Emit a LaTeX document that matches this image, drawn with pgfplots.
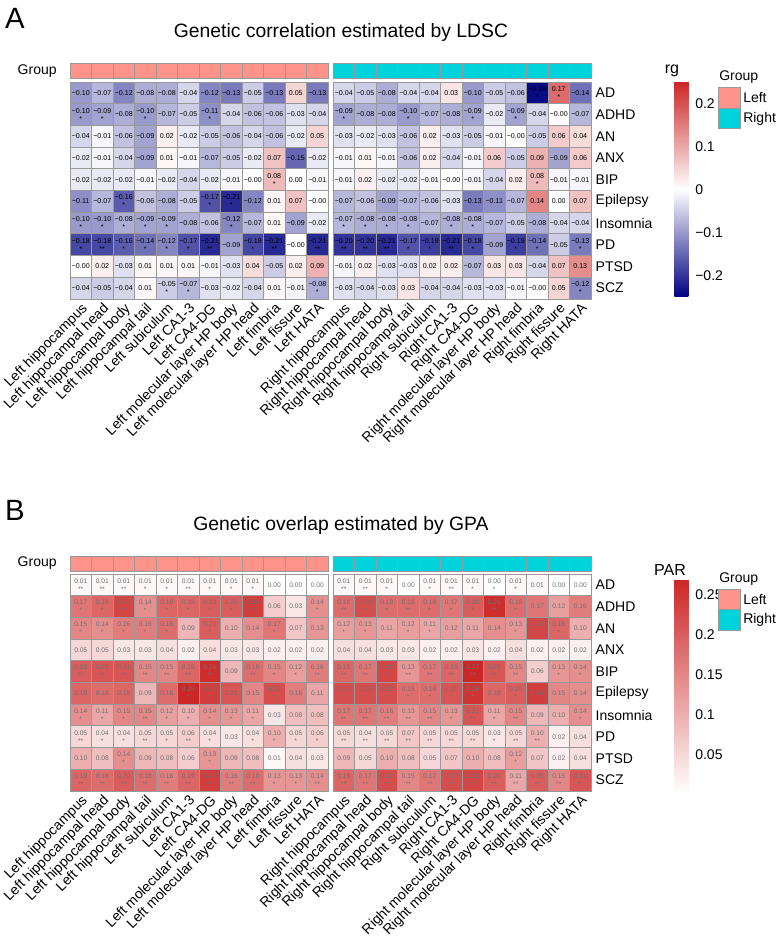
\documentclass[border=0pt]{standalone}
\usepackage{fontspec}
\setmainfont{Liberation Sans}
\usepackage{pgfplots}
\usepackage{pgfplotstable}
\pgfplotsset{compat=1.18}

\definecolor{leftc}{HTML}{FF9289}
\definecolor{rightc}{HTML}{00D3DB}
\definecolor{grey60}{HTML}{999999}
\definecolor{numgray}{HTML}{707070}

% one or two significance stars under the value
\protected\def\sa{\\{}*}
\protected\def\sb{\\{}**}
\newcommand\fs{\fontsize{10.5}{12}\selectfont}

\pgfplotsset{
  colormap={parmap}{rgb255=(255,255,255) rgb255=(205,38,38)},
  colormap={rgmap}{rgb255=(0,0,128) rgb255=(255,255,255) rgb255=(205,38,38)},
  heat/.style={
    scale only axis, width=193.5pt, height=162.75pt, anchor=north west,
    xmin=-0.5, xmax=11.5, ymin=-0.5, ymax=9.5, y dir=reverse,
    axis line style={draw=none}, major tick length=0pt, clip=false,
    xtick={0,...,11}, ytick=\empty,
    xticklabel style={rotate=45, anchor=north east, font=\fs, inner sep=1.5pt},
    yticklabel style={anchor=west, font=\fs},
  },
  gbar/.style={
    scale only axis, width=193.5pt, height=11.25pt, anchor=north west,
    xmin=-0.5, xmax=11.5, ymin=0, ymax=1, hide axis, clip=false,
  },
  lbox/.style={
    scale only axis, width=16.5pt, height=30.75pt, anchor=north west,
    xmin=0, xmax=1, ymin=-0.5, ymax=1.5, y dir=reverse, hide axis, clip=false,
  },
  cellnum/.style={
    only marks, mark=none, nodes near coords, point meta=explicit symbolic,
    nodes near coords align={center},
    every node near coord/.append style={anchor=center, align=center,
      inner sep=0pt, text=#1},
  },
}

% ---------- rg (LDSC) ----------
\pgfplotstableread{
x y v lab
0 0 -0.10 −0.10
1 0 -0.07 −0.07
2 0 -0.12 −0.12
3 0 -0.08 −0.08
4 0 -0.08 −0.08
5 0 -0.04 −0.04
6 0 -0.12 −0.12
7 0 -0.13 −0.13
8 0 -0.05 −0.05
9 0 -0.13 −0.13
10 0 0.05 0.05
11 0 -0.13 −0.13
0 1 -0.10 −0.10\sa
1 1 -0.09 −0.09\sa
2 1 -0.08 −0.08
3 1 -0.10 −0.10\sa
4 1 -0.07 −0.07
5 1 -0.05 −0.05
6 1 -0.11 −0.11\sa
7 1 -0.04 −0.04
8 1 -0.06 −0.06
9 1 -0.06 −0.06
10 1 -0.03 −0.03
11 1 -0.04 −0.04
0 2 -0.04 −0.04
1 2 -0.01 −0.01
2 2 -0.06 −0.06
3 2 -0.09 −0.09
4 2 0.02 0.02
5 2 -0.02 −0.02
6 2 -0.05 −0.05
7 2 -0.06 −0.06
8 2 -0.04 −0.04
9 2 -0.06 −0.06
10 2 -0.02 −0.02
11 2 0.05 0.05
0 3 -0.02 −0.02
1 3 -0.01 −0.01
2 3 -0.04 −0.04
3 3 -0.09 −0.09
4 3 0.01 0.01
5 3 -0.01 −0.01
6 3 -0.07 −0.07
7 3 -0.05 −0.05
8 3 -0.02 −0.02
9 3 0.07 0.07
10 3 -0.15 −0.15
11 3 -0.02 −0.02
0 4 -0.02 −0.02
1 4 -0.02 −0.02
2 4 -0.02 −0.02
3 4 -0.01 −0.01
4 4 -0.02 −0.02
5 4 -0.04 −0.04
6 4 -0.02 −0.02
7 4 -0.01 −0.01
8 4 0.00 −0.00
9 4 0.08 0.08\sa
10 4 0.00 0.00
11 4 -0.01 −0.01
0 5 -0.11 −0.11
1 5 -0.07 −0.07
2 5 -0.16 −0.16\sa
3 5 -0.06 −0.06
4 5 -0.08 −0.08
5 5 -0.05 −0.05
6 5 -0.17 −0.17\sa
7 5 -0.21 −0.21\sa
8 5 -0.12 −0.12
9 5 0.01 0.01
10 5 0.07 0.07
11 5 0.00 −0.00
0 6 -0.10 −0.10\sa
1 6 -0.10 −0.10\sa
2 6 -0.08 −0.08\sa
3 6 -0.09 −0.09\sa
4 6 -0.09 −0.09\sa
5 6 -0.08 −0.08
6 6 -0.06 −0.06
7 6 -0.12 −0.12\sa
8 6 -0.07 −0.07
9 6 0.01 0.01
10 6 -0.09 −0.09
11 6 -0.02 −0.02
0 7 -0.18 −0.18\sa
1 7 -0.18 −0.18\sb
2 7 -0.16 −0.16\sa
3 7 -0.14 −0.14\sa
4 7 -0.12 −0.12\sa
5 7 -0.17 −0.17\sa
6 7 -0.21 −0.21\sb
7 7 -0.09 −0.09
8 7 -0.18 −0.18\sa
9 7 -0.21 −0.21\sb
10 7 0.00 −0.00
11 7 -0.21 −0.21\sb
0 8 0.00 −0.00
1 8 0.02 0.02
2 8 -0.03 −0.03
3 8 0.01 0.01
4 8 0.01 0.01
5 8 0.01 0.01
6 8 -0.01 −0.01
7 8 -0.03 −0.03
8 8 0.04 0.04
9 8 -0.05 −0.05
10 8 0.02 0.02
11 8 0.09 0.09
0 9 -0.04 −0.04
1 9 -0.05 −0.05
2 9 -0.04 −0.04
3 9 0.01 0.01
4 9 -0.05 −0.05\sa
5 9 -0.07 −0.07\sa
6 9 -0.03 −0.03
7 9 -0.02 −0.02
8 9 -0.04 −0.04
9 9 0.01 0.01
10 9 -0.01 −0.01
11 9 -0.08 −0.08\sa
}\rgLeft

\pgfplotstableread{
x y v lab
0 0 -0.04 −0.04
1 0 -0.05 −0.05
2 0 -0.08 −0.08
3 0 -0.04 −0.04
4 0 -0.04 −0.04
5 0 0.03 0.03
6 0 -0.10 −0.10
7 0 -0.05 −0.05
8 0 -0.06 −0.06
9 0 -0.24 −0.24\sa
10 0 0.17 0.17\sa
11 0 -0.14 −0.14
0 1 -0.09 −0.09\sa
1 1 -0.08 −0.08
2 1 -0.08 −0.08
3 1 -0.10 −0.10\sa
4 1 -0.07 −0.07
5 1 -0.08 −0.08
6 1 -0.09 −0.09\sa
7 1 -0.02 −0.02
8 1 -0.09 −0.09\sa
9 1 -0.04 −0.04
10 1 0.00 −0.00
11 1 -0.07 −0.07
0 2 -0.03 −0.03
1 2 -0.02 −0.02
2 2 -0.03 −0.03
3 2 -0.06 −0.06
4 2 0.02 0.02
5 2 -0.03 −0.03
6 2 -0.05 −0.05
7 2 -0.01 −0.01
8 2 0.00 −0.00
9 2 -0.05 −0.05
10 2 0.06 0.06
11 2 0.04 0.04
0 3 -0.01 −0.01
1 3 0.01 0.01
2 3 -0.01 −0.01
3 3 -0.06 −0.06
4 3 0.02 0.02
5 3 -0.04 −0.04
6 3 -0.01 −0.01
7 3 0.06 0.06
8 3 -0.05 −0.05
9 3 0.09 0.09
10 3 -0.09 −0.09
11 3 0.06 0.06
0 4 -0.01 −0.01
1 4 0.02 0.02
2 4 -0.02 −0.02
3 4 -0.02 −0.02
4 4 -0.01 −0.01
5 4 0.00 −0.00
6 4 -0.01 −0.01
7 4 -0.04 −0.04
8 4 0.02 0.02
9 4 0.08 0.08\sa
10 4 -0.01 −0.01
11 4 -0.01 −0.01
0 5 -0.07 −0.07
1 5 -0.06 −0.06
2 5 -0.09 −0.09
3 5 -0.07 −0.07
4 5 -0.06 −0.06
5 5 -0.03 −0.03
6 5 -0.13 −0.13
7 5 -0.11 −0.11
8 5 -0.07 −0.07
9 5 0.14 0.14
10 5 0.00 0.00
11 5 0.07 0.07
0 6 -0.07 −0.07\sa
1 6 -0.08 −0.08\sa
2 6 -0.08 −0.08\sa
3 6 -0.08 −0.08\sa
4 6 -0.07 −0.07
5 6 -0.08 −0.08\sa
6 6 -0.08 −0.08\sa
7 6 -0.07 −0.07
8 6 -0.05 −0.05
9 6 -0.08 −0.08
10 6 -0.04 −0.04
11 6 -0.04 −0.04
0 7 -0.20 −0.20\sb
1 7 -0.20 −0.20\sb
2 7 -0.21 −0.21\sb
3 7 -0.17 −0.17\sa
4 7 -0.19 −0.19\sa
5 7 -0.21 −0.21\sb
6 7 -0.18 −0.18\sa
7 7 -0.09 −0.09
8 7 -0.19 −0.19\sa
9 7 -0.14 −0.14\sa
10 7 -0.05 −0.05
11 7 -0.13 −0.13\sa
0 8 -0.01 −0.01
1 8 0.02 0.02
2 8 -0.03 −0.03
3 8 -0.03 −0.03
4 8 0.02 0.02
5 8 0.02 0.02
6 8 -0.07 −0.07
7 8 0.03 0.03
8 8 0.03 0.03
9 8 -0.04 −0.04
10 8 0.07 0.07
11 8 0.13 0.13
0 9 -0.03 −0.03
1 9 -0.04 −0.04
2 9 -0.03 −0.03
3 9 0.03 0.03
4 9 -0.04 −0.04
5 9 -0.04 −0.04
6 9 -0.03 −0.03
7 9 -0.03 −0.03
8 9 -0.01 −0.01
9 9 0.00 −0.00
10 9 0.05 0.05
11 9 -0.12 −0.12\sa
}\rgRight

% ---------- PAR (GPA) ----------
\pgfplotstableread{
x y v lab
0 0 0.01 0.01\sb
1 0 0.01 0.01\sb
2 0 0.01 0.01\sb
3 0 0.01 0.01\sa
4 0 0.01 0.01\sa
5 0 0.01 0.01\sb
6 0 0.01 0.01\sa
7 0 0.01 0.01\sa
8 0 0.01 0.01\sa
9 0 0.00 0.00
10 0 0.00 0.00
11 0 0.00 0.00
0 1 0.17 0.17\sa
1 1 0.19 0.19\sa
2 1 0.23 0.23\sb
3 1 0.14 0.14\sa
4 1 0.19 0.19\sa
5 1 0.19 0.19\sa
6 1 0.20 0.20\sa
7 1 0.20 0.20\sa
8 1 0.24 0.24\sb
9 1 0.06 0.06
10 1 0.03 0.03
11 1 0.14 0.14\sa
0 2 0.15 0.15\sa
1 2 0.14 0.14\sa
2 2 0.16 0.16\sa
3 2 0.16 0.16\sa
4 2 0.18 0.18\sa
5 2 0.09 0.09
6 2 0.20 0.20\sa
7 2 0.10 0.10
8 2 0.14 0.14
9 2 0.17 0.17\sa
10 2 0.07 0.07
11 2 0.13 0.13
0 3 0.05 0.05
1 3 0.05 0.05
2 3 0.03 0.03
3 3 0.03 0.03
4 3 0.04 0.04
5 3 0.02 0.02
6 3 0.04 0.04
7 3 0.03 0.03
8 3 0.03 0.03
9 3 0.02 0.02
10 3 0.02 0.02
11 3 0.02 0.02
0 4 0.20 0.20\sb
1 4 0.21 0.21\sb
2 4 0.21 0.21\sb
3 4 0.15 0.15\sb
4 4 0.15 0.15\sb
5 4 0.19 0.19\sb
6 4 0.26 0.26\sb
7 4 0.09 0.09
8 4 0.18 0.18\sb
9 4 0.15 0.15\sa
10 4 0.12 0.12\sa
11 4 0.16 0.16\sb
0 5 0.19 0.19
1 5 0.18 0.18
2 5 0.19 0.19
3 5 0.09 0.09
4 5 0.18 0.18
5 5 0.28 0.28\sa
6 5 0.24 0.24\sa
7 5 0.21 0.21
8 5 0.15 0.15
9 5 0.22 0.22\sa
10 5 0.16 0.16
11 5 0.11 0.11
0 6 0.14 0.14\sa
1 6 0.11 0.11\sa
2 6 0.15 0.15\sa
3 6 0.15 0.15\sb
4 6 0.12 0.12\sa
5 6 0.10 0.10\sa
6 6 0.14 0.14\sa
7 6 0.13 0.13\sa
8 6 0.11 0.11\sa
9 6 0.03 0.03
10 6 0.08 0.08
11 6 0.08 0.08
0 7 0.05 0.05\sb
1 7 0.04 0.04\sa
2 7 0.04 0.04\sa
3 7 0.05 0.05\sb
4 7 0.05 0.05\sa
5 7 0.06 0.06\sb
6 7 0.04 0.04\sa
7 7 0.03 0.03
8 7 0.04 0.04\sa
9 7 0.10 0.10\sa
10 7 0.05 0.05\sa
11 7 0.06 0.06\sa
0 8 0.10 0.10
1 8 0.08 0.08
2 8 0.14 0.14\sa
3 8 0.09 0.09
4 8 0.08 0.08
5 8 0.06 0.06
6 8 0.13 0.13\sa
7 8 0.09 0.09
8 8 0.08 0.08
9 8 0.01 0.01
10 8 0.04 0.04
11 8 0.03 0.03
0 9 0.19 0.19\sb
1 9 0.18 0.18\sb
2 9 0.20 0.20\sb
3 9 0.18 0.18\sb
4 9 0.16 0.16\sb
5 9 0.19 0.19\sb
6 9 0.24 0.24\sb
7 9 0.16 0.16\sb
8 9 0.18 0.18\sb
9 9 0.13 0.13\sa
10 9 0.13 0.13\sa
11 9 0.14 0.14\sb
}\parLeft

\pgfplotstableread{
x y v lab
0 0 0.01 0.01\sb
1 0 0.01 0.01\sb
2 0 0.01 0.01\sa
3 0 0.00 0.00
4 0 0.01 0.01\sa
5 0 0.01 0.01\sb
6 0 0.01 0.01\sa
7 0 0.00 0.00\sa
8 0 0.01 0.01\sa
9 0 0.01 0.01
10 0 0.00 0.00
11 0 0.00 0.00
0 1 0.18 0.18\sb
1 1 0.22 0.22\sb
2 1 0.18 0.18\sa
3 1 0.18 0.18\sb
4 1 0.18 0.18\sa
5 1 0.17 0.17\sa
6 1 0.20 0.20\sa
7 1 0.26 0.26\sb
8 1 0.18 0.18\sa
9 1 0.17 0.17
10 1 0.12 0.12
11 1 0.16 0.16
0 2 0.12 0.12\sa
1 2 0.13 0.13\sa
2 2 0.11 0.11
3 2 0.12 0.12\sa
4 2 0.11 0.11\sa
5 2 0.12 0.12
6 2 0.11 0.11
7 2 0.14 0.14
8 2 0.13 0.13\sa
9 2 0.23 0.23\sa
10 2 0.19 0.19\sa
11 2 0.10 0.10
0 3 0.04 0.04
1 3 0.04 0.04
2 3 0.03 0.03
3 3 0.03 0.03
4 3 0.02 0.02
5 3 0.02 0.02
6 3 0.03 0.03
7 3 0.02 0.02
8 3 0.04 0.04
9 3 0.02 0.02
10 3 0.02 0.02
11 3 0.02 0.02
0 4 0.19 0.19\sb
1 4 0.17 0.17\sb
2 4 0.23 0.23\sb
3 4 0.13 0.13\sb
4 4 0.17 0.17\sb
5 4 0.19 0.19\sb
6 4 0.27 0.27\sb
7 4 0.21 0.21\sb
8 4 0.15 0.15\sb
9 4 0.06 0.06
10 4 0.13 0.13\sa
11 4 0.14 0.14\sa
0 5 0.22 0.22\sa
1 5 0.22 0.22\sa
2 5 0.22 0.22\sa
3 5 0.18 0.18\sa
4 5 0.18 0.18\sa
5 5 0.21 0.21\sa
6 5 0.25 0.25\sa
7 5 0.19 0.19
8 5 0.20 0.20\sa
9 5 0.24 0.24
10 5 0.15 0.15
11 5 0.14 0.14
0 6 0.17 0.17\sb
1 6 0.17 0.17\sb
2 6 0.16 0.16\sb
3 6 0.13 0.13\sb
4 6 0.15 0.15\sb
5 6 0.13 0.13\sa
6 6 0.21 0.21\sb
7 6 0.11 0.11\sa
8 6 0.15 0.15\sb
9 6 0.09 0.09
10 6 0.10 0.10
11 6 0.14 0.14\sa
0 7 0.05 0.05\sb
1 7 0.04 0.04\sb
2 7 0.05 0.05\sb
3 7 0.07 0.07\sb
4 7 0.05 0.05\sb
5 7 0.05 0.05\sb
6 7 0.05 0.05\sb
7 7 0.03 0.03\sa
8 7 0.05 0.05\sb
9 7 0.10 0.10\sb
10 7 0.02 0.02
11 7 0.04 0.04
0 8 0.09 0.09
1 8 0.05 0.05
2 8 0.10 0.10
3 8 0.08 0.08
4 8 0.05 0.05
5 8 0.07 0.07
6 8 0.10 0.10
7 8 0.08 0.08
8 8 0.12 0.12\sa
9 8 0.07 0.07
10 8 0.02 0.02
11 8 0.04 0.04
0 9 0.19 0.19\sb
1 9 0.17 0.17\sb
2 9 0.22 0.22\sb
3 9 0.15 0.15\sb
4 9 0.17 0.17\sb
5 9 0.22 0.22\sb
6 9 0.23 0.23\sb
7 9 0.20 0.20\sb
8 9 0.11 0.11\sb
9 9 0.20 0.20\sb
10 9 0.15 0.15\sb
11 9 0.21 0.21\sb
}\parRight

\def\leftnames{Left hippocampus, Left hippocampal head, Left hippocampal body,
  Left hippocampal tail, Left subiculum, Left CA1-3, Left CA4-DG,
  Left molecular layer HP body, Left molecular layer HP head, Left fimbria,
  Left fissure, Left HATA}
\def\rightnames{Right hippocampus, Right hippocampal head, Right hippocampal body,
  Right hippocampal tail, Right subiculum, Right CA1-3, Right CA4-DG,
  Right molecular layer HP body, Right molecular layer HP head, Right fimbria,
  Right fissure, Right HATA}
\def\traits{AD,ADHD,AN,ANX,BIP,Epilepsy,Insomnia,PD,PTSD,SCZ}

\begin{document}
\begin{tikzpicture}
\useasboundingbox (0,0) rectangle (583.5pt,-703.5pt);

% ================= A: LDSC =================
\node[font=\fontsize{22}{24}\selectfont] at (11.25pt,-13.5pt) {A};
\node[font=\fontsize{14.5}{16}\selectfont] at (255.75pt,-24.75pt) {Genetic correlation estimated by LDSC};
\node[anchor=east, font=\fs] at (46pt,-53.6pt) {Group};

\begin{axis}[gbar, at={(52.5pt,-48pt)}]
\addplot[ybar, bar width=1, bar shift=0pt, fill=leftc, draw=grey60, line width=0.75pt]
  coordinates {(0,1)(1,1)(2,1)(3,1)(4,1)(5,1)(6,1)(7,1)(8,1)(9,1)(10,1)(11,1)};
\end{axis}
\begin{axis}[gbar, at={(249.75pt,-48pt)}]
\addplot[ybar, bar width=1, bar shift=0pt, fill=rightc, draw=grey60, line width=0.75pt]
  coordinates {(0,1)(1,1)(2,1)(3,1)(4,1)(5,1)(6,1)(7,1)(8,1)(9,1)(10,1)(11,1)};
\end{axis}

\begin{axis}[heat, at={(52.5pt,-61.5pt)}, xticklabels/.expand once=\leftnames,
  colormap name=rgmap, point meta min=-0.25, point meta max=0.25]
\addplot[matrix plot*, mesh/cols=12, point meta=explicit, draw=grey60, line width=0.75pt]
  table[x=x, y=y, meta=v] {\rgLeft};
\addplot[cellnum=black, every node near coord/.append style={font=\fontsize{5.3}{6}\selectfont}]
  table[x=x, y=y, meta=lab] {\rgLeft};
\end{axis}

\begin{axis}[heat, at={(249.75pt,-61.5pt)}, xticklabels/.expand once=\rightnames,
  ytick={0,...,9}, yticklabels/.expand once=\traits, yticklabel pos=right,
  colormap name=rgmap, point meta min=-0.25, point meta max=0.25,
  colorbar,
  colorbar style={
    at={(parent axis.north east)}, anchor=north west, xshift=54pt, yshift=0pt,
    scale only axis, width=10.5pt, height=161.25pt,
    axis line style={draw=none}, major tick length=0pt,
    ytick={-0.2,-0.1,0,0.1,0.2}, yticklabels={−0.2,−0.1,0,0.1,0.2},
    yticklabel style={font=\fs, anchor=west, inner sep=0pt, xshift=5pt},
  }]
\addplot[matrix plot*, mesh/cols=12, point meta=explicit, draw=grey60, line width=0.75pt]
  table[x=x, y=y, meta=v] {\rgRight};
\addplot[cellnum=black, every node near coord/.append style={font=\fontsize{5.3}{6}\selectfont}]
  table[x=x, y=y, meta=lab] {\rgRight};
\end{axis}

\node[font=\fontsize{12}{14}\selectfont] at (504pt,-53.25pt) {rg};
\node[anchor=west, inner sep=0pt, font=\fs] at (539.25pt,-57.75pt) {Group};
\begin{axis}[lbox, at={(538.5pt,-66pt)}]
\addplot[xbar, bar width=1, bar shift=0pt, fill=leftc, draw=grey60, line width=0.75pt] coordinates {(1,0)};
\addplot[xbar, bar width=1, bar shift=0pt, fill=rightc, draw=grey60, line width=0.75pt] coordinates {(1,1)};
\end{axis}
\node[anchor=west, inner sep=0pt, font=\fs] at (557.25pt,-73.5pt) {Left};
\node[anchor=west, inner sep=0pt, font=\fs] at (557.25pt,-89.25pt) {Right};

% ================= B: GPA =================
\node[font=\fontsize{22}{24}\selectfont] at (11.25pt,-382.5pt) {B};
\node[font=\fontsize{14.5}{16}\selectfont] at (255.75pt,-393.75pt) {Genetic overlap estimated by GPA};
\node[anchor=east, font=\fs] at (46pt,-422.6pt) {Group};

\begin{axis}[gbar, at={(52.5pt,-417pt)}]
\addplot[ybar, bar width=1, bar shift=0pt, fill=leftc, draw=grey60, line width=0.75pt]
  coordinates {(0,1)(1,1)(2,1)(3,1)(4,1)(5,1)(6,1)(7,1)(8,1)(9,1)(10,1)(11,1)};
\end{axis}
\begin{axis}[gbar, at={(249.75pt,-417pt)}]
\addplot[ybar, bar width=1, bar shift=0pt, fill=rightc, draw=grey60, line width=0.75pt]
  coordinates {(0,1)(1,1)(2,1)(3,1)(4,1)(5,1)(6,1)(7,1)(8,1)(9,1)(10,1)(11,1)};
\end{axis}

\begin{axis}[heat, at={(52.5pt,-430.5pt)}, xticklabels/.expand once=\leftnames,
  colormap name=parmap, point meta min=0, point meta max=0.27]
\addplot[matrix plot*, mesh/cols=12, point meta=explicit, draw=grey60, line width=0.75pt]
  table[x=x, y=y, meta=v] {\parLeft};
\addplot[cellnum=numgray, every node near coord/.append style={font=\fontsize{5}{6}\selectfont}]
  table[x=x, y=y, meta=lab] {\parLeft};
\end{axis}

\begin{axis}[heat, at={(249.75pt,-430.5pt)}, xticklabels/.expand once=\rightnames,
  ytick={0,...,9}, yticklabels/.expand once=\traits, yticklabel pos=right,
  colormap name=parmap, point meta min=0, point meta max=0.27,
  colorbar,
  colorbar style={
    at={(parent axis.north east)}, anchor=north west, xshift=54pt, yshift=-3.75pt,
    scale only axis, width=10.5pt, height=161.25pt,
    axis line style={draw=none}, major tick length=0pt,
    ytick={0.05,0.1,0.15,0.2,0.25}, yticklabels={0.05,0.1,0.15,0.2,0.25},
    yticklabel style={font=\fs, anchor=west, inner sep=0pt, xshift=5pt},
  }]
\addplot[matrix plot*, mesh/cols=12, point meta=explicit, draw=grey60, line width=0.75pt]
  table[x=x, y=y, meta=v] {\parRight};
\addplot[cellnum=numgray, every node near coord/.append style={font=\fontsize{5}{6}\selectfont}]
  table[x=x, y=y, meta=lab] {\parRight};
\end{axis}

\node[font=\fontsize{12}{14}\selectfont] at (502.5pt,-427.5pt) {PAR};
\node[anchor=west, inner sep=0pt, font=\fs] at (539.25pt,-434.25pt) {Group};
\begin{axis}[lbox, at={(538.5pt,-441.75pt)}]
\addplot[xbar, bar width=1, bar shift=0pt, fill=leftc, draw=grey60, line width=0.75pt] coordinates {(1,0)};
\addplot[xbar, bar width=1, bar shift=0pt, fill=rightc, draw=grey60, line width=0.75pt] coordinates {(1,1)};
\end{axis}
\node[anchor=west, inner sep=0pt, font=\fs] at (557.25pt,-449.6pt) {Left};
\node[anchor=west, inner sep=0pt, font=\fs] at (557.25pt,-465pt) {Right};
\end{tikzpicture}
\end{document}
